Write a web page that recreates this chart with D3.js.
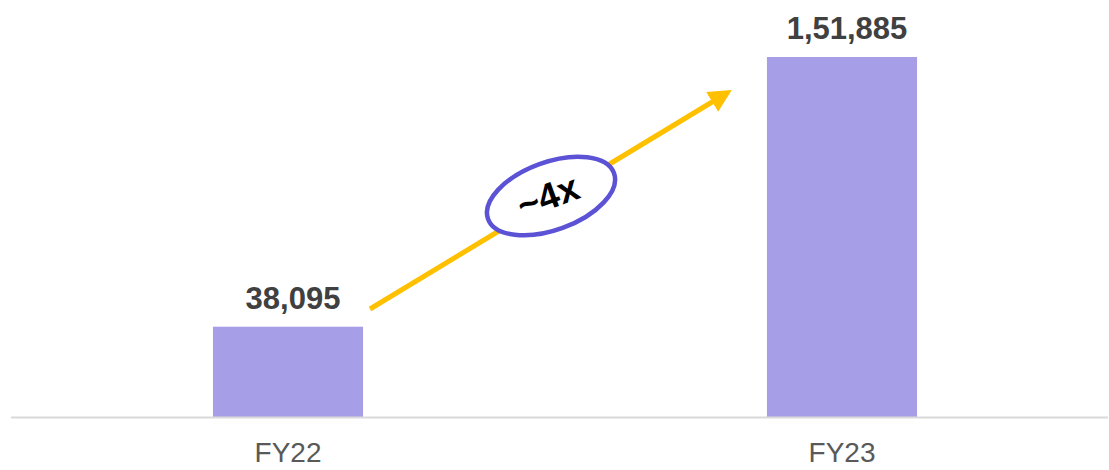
<!DOCTYPE html>
<html>
<head>
<meta charset="utf-8">
<script src="https://cdn.jsdelivr.net/npm/d3@7"></script>
<style>
  body { margin: 0; background: #fff; }
  svg { display: block; font-family: "Liberation Sans", Arial, sans-serif; }
</style>
</head>
<body>
<div id="chart"></div>
<script>
var categories = ["FY22", "FY23"];
var values = [38095, 151885];
var valueLabels = ["38,095", "1,51,885"];
var growthLabel = "~4x";

var W = 1109, H = 470;

var svg = d3.select("#chart")
  .append("svg")
  .attr("width", W)
  .attr("height", H);

// scales
var x = d3.scaleBand()
  .domain(categories)
  .range([11, 1119])
  .paddingInner(0.729)
  .paddingOuter(0.3645);

var y = d3.scaleLinear()
  .domain([0, 151885])
  .range([417, 57]);

// bars
svg.selectAll(".bar")
  .data(values)
  .enter()
  .append("rect")
  .attr("class", "bar")
  .attr("x", function(d, i) { return x(categories[i]); })
  .attr("y", function(d) { return y(d); })
  .attr("width", x.bandwidth())
  .attr("height", function(d) { return y(0) - y(d); })
  .style("fill", "#A69EE6");

// baseline
svg.append("line")
  .attr("x1", 11)
  .attr("x2", 1108)
  .attr("y1", y(0) + 0.5)
  .attr("y2", y(0) + 0.5)
  .style("stroke", "#D9D9D9")
  .style("stroke-width", 2);

// x axis labels
var xAxis = d3.axisBottom(x).tickSize(0).tickPadding(0);
var gx = svg.append("g")
  .attr("transform", "translate(0,441)")
  .call(xAxis);
gx.select(".domain").remove();
gx.selectAll("text")
  .attr("dy", "0.75em")
  .style("font-size", "28px")
  .style("font-family", "'Liberation Sans', Arial, sans-serif")
  .style("fill", "#595959");

// value labels
svg.selectAll(".val")
  .data(values)
  .enter()
  .append("text")
  .attr("class", "val")
  .attr("x", function(d, i) { return x(categories[i]) + x.bandwidth() / 2 + 5; })
  .attr("y", function(d) { return y(d) - 18; })
  .style("text-anchor", "middle")
  .style("font-size", "31px")
  .style("font-weight", "bold")
  .style("fill", "#404040")
  .text(function(d, i) { return valueLabels[i]; });

// growth arrow
var defs = svg.append("defs");
defs.append("marker")
  .attr("id", "head")
  .attr("viewBox", "0 0 10 10")
  .attr("refX", 5)
  .attr("refY", 5)
  .attr("markerWidth", 4.6)
  .attr("markerHeight", 4.6)
  .attr("orient", "auto")
  .append("path")
  .attr("d", "M0,0 L10,5 L0,10 Z")
  .style("fill", "#FFC000");

svg.append("line")
  .attr("x1", 370)
  .attr("y1", 309)
  .attr("x2", 722)
  .attr("y2", 96)
  .style("stroke", "#FFC000")
  .style("stroke-width", 5)
  .attr("marker-end", "url(#head)");

// ellipse with growth label
var badge = svg.append("g")
  .attr("transform", "translate(551,196) rotate(-20)");

badge.append("ellipse")
  .attr("rx", 67)
  .attr("ry", 34)
  .style("fill", "#fff")
  .style("stroke", "#5B52D6")
  .style("stroke-width", 4.5);

badge.append("text")
  .attr("x", -3)
  .attr("y", 12)
  .style("text-anchor", "middle")
  .style("font-size", "37px")
  .style("font-weight", "bold")
  .style("fill", "#000")
  .text(growthLabel);
</script>
</body>
</html>
